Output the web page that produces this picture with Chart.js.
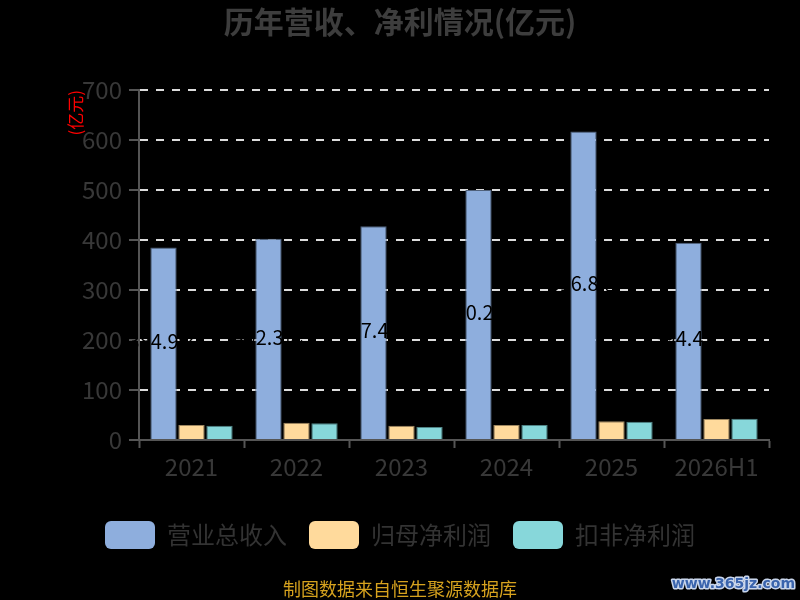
<!DOCTYPE html>
<html>
<head>
<meta charset="utf-8">
<script src="https://cdn.jsdelivr.net/npm/chart.js@4.4.1/dist/chart.umd.min.js"></script>
<style>
html,body{margin:0;padding:0;background:#000;}
#wrap{width:800px;height:600px;}
</style>
</head>
<body>
<div id="wrap"><canvas id="c" width="800" height="600"></canvas></div>
<script>
const categories = ['2021', '2022', '2023', '2024', '2025', '2026H1'];
const revenue = [384.9, 402.3, 427.4, 500.2, 616.8, 394.4];
const netProfit = [30.0, 34.7, 28.7, 30.0, 37.3, 42.0];
const deductedProfit = [28.7, 33.3, 26.0, 29.8, 36.7, 42.7];
const seriesNames = ['营业总收入', '归母净利润', '扣非净利润'];
const yMin = 0, yMax = 700, yStep = 100;
const titleText = '历年营收、净利情况(亿元)';
const yAxisTitle = '(亿元)';
const footerText = '制图数据来自恒生聚源数据库';
const watermarkText = 'www.365jz.com';

const FONT = '"Noto Sans CJK SC", "Noto Sans", sans-serif';
Chart.defaults.font.family = FONT;

const bgPlugin = {
  id: 'bg',
  beforeDraw(chart) {
    const ctx = chart.ctx;
    ctx.save();
    ctx.fillStyle = '#000';
    ctx.fillRect(0, 0, chart.width, chart.height);
    ctx.restore();
  }
};

const barLabels = {
  id: 'barLabels',
  afterDatasetsDraw(chart) {
    const ctx = chart.ctx;
    const meta = chart.getDatasetMeta(0);
    const data = chart.data.datasets[0].data;
    ctx.save();
    ctx.font = '20px ' + FONT;
    ctx.fillStyle = '#000';
    ctx.textAlign = 'center';
    ctx.textBaseline = 'middle';
    meta.data.forEach((bar, i) => {
      ctx.fillText(data[i].toFixed(1) + '亿', bar.x, (bar.y + bar.base) / 2 - 2);
    });
    ctx.restore();
  }
};

const footer = {
  id: 'footer',
  afterDraw(chart) {
    const ctx = chart.ctx;
    ctx.save();
    ctx.font = '18px ' + FONT;
    ctx.fillStyle = '#d6a21e';
    ctx.textAlign = 'center';
    ctx.textBaseline = 'middle';
    ctx.fillText(footerText, 400, 589);
    ctx.font = 'bold 14px "DejaVu Sans", sans-serif';
    ctx.textAlign = 'right';
    ctx.lineWidth = 3;
    ctx.strokeStyle = '#c9d6ec';
    ctx.lineJoin = 'round';
    ctx.strokeText(watermarkText, 795, 584);
    ctx.fillStyle = '#3a64ad';
    ctx.fillText(watermarkText, 795, 584);
    ctx.restore();
  }
};

new Chart(document.getElementById('c'), {
  type: 'bar',
  data: {
    labels: categories,
    datasets: [
      { label: seriesNames[0], data: revenue, backgroundColor: '#8eaedd', borderColor: '#4f607a', borderWidth: 1 },
      { label: seriesNames[1], data: netProfit, backgroundColor: '#ffda9c', borderColor: '#9e8760', borderWidth: 1 },
      { label: seriesNames[2], data: deductedProfit, backgroundColor: '#87d7da', borderColor: '#4f8486', borderWidth: 1 }
    ]
  },
  options: {
    responsive: false,
    animation: false,
    devicePixelRatio: 1,
    categoryPercentage: 0.8,
    barPercentage: 0.94,
    layout: { padding: { left: 31, right: 31, top: 0, bottom: 41 } },
    plugins: {
      title: {
        display: true,
        text: titleText,
        color: '#3d3d3d',
        font: { size: 30, weight: 'bold' },
        padding: { top: 4, bottom: 50 }
      },
      legend: {
        position: 'bottom',
        labels: {
          boxWidth: 50,
          boxHeight: 28,
          useBorderRadius: true,
          borderRadius: 6,
          padding: 22,
          color: '#333',
          font: { size: 24 },
          generateLabels(chart) {
            const items = Chart.defaults.plugins.legend.labels.generateLabels(chart);
            items.forEach(it => { it.lineWidth = 0; it.strokeStyle = 'rgba(0,0,0,0)'; });
            return items;
          }
        }
      },
      tooltip: { enabled: false }
    },
    scales: {
      x: {
        grid: {
          drawOnChartArea: false,
          drawTicks: true,
          tickLength: 8,
          tickColor: '#555',
          tickWidth: 2
        },
        border: { color: '#555', width: 2 },
        ticks: { color: '#383838', font: { size: 24 }, padding: 4 },
        afterFit(scale) { scale.height = 59; }
      },
      y: {
        min: yMin,
        max: yMax,
        ticks: { stepSize: yStep, color: '#383838', font: { size: 24 }, padding: 7 },
        grid: {
          color: (c) => (c.tick && c.tick.value === 0) ? 'rgba(0,0,0,0)' : '#dcdcdc',
          lineWidth: 2,
          tickLength: 10,
          tickColor: '#555',
          tickWidth: 2,
          tickBorderDash: []
        },
        border: { color: '#555', width: 2, dash: [8, 8] },
        title: {
          display: true,
          text: yAxisTitle,
          color: '#ff0000',
          font: { size: 17 },
          align: 'end',
          padding: { top: 34, bottom: 0 }
        },
        afterFit(scale) { scale.width = 108; }
      }
    }
  },
  plugins: [bgPlugin, barLabels, footer]
});
</script>
</body>
</html>
